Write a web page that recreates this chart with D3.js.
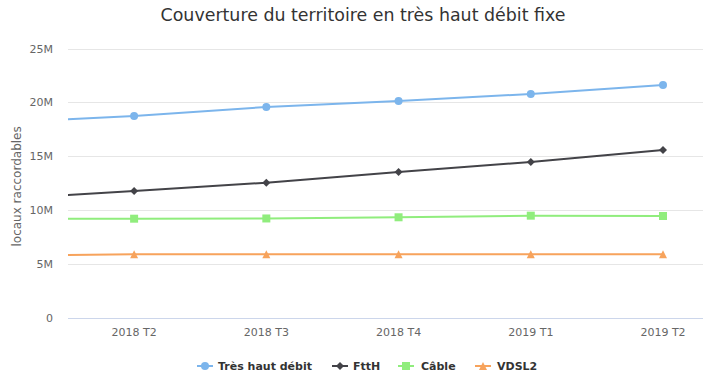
<!DOCTYPE html>
<html>
<head>
<meta charset="utf-8">
<script src="https://cdn.jsdelivr.net/npm/d3@7"></script>
<style>
  html, body { margin: 0; padding: 0; background: #fff; }
  svg { display: block; font-family: "DejaVu Sans", "Lucida Grande", Arial, sans-serif; }
</style>
</head>
<body>
<svg id="chart" width="703" height="381"></svg>
<script>
// ---- data ----
const categories = ["2018 T1", "2018 T2", "2018 T3", "2018 T4", "2019 T1", "2019 T2"];
const tresHautDebit = [18.13e6, 18.75e6, 19.58e6, 20.14e6, 20.79e6, 21.62e6];
const ftth          = [11.06e6, 11.80e6, 12.57e6, 13.56e6, 14.49e6, 15.60e6];
const cable         = [9.20e6, 9.23e6, 9.25e6, 9.36e6, 9.51e6, 9.48e6];
const vdsl2         = [5.81e6, 5.93e6, 5.93e6, 5.93e6, 5.94e6, 5.93e6];
const seriesNames   = ["Très haut débit", "FttH", "Câble", "VDSL2"];
const yTicks        = [0, 5e6, 10e6, 15e6, 20e6, 25e6];
const yTickLabels   = ["0", "5M", "10M", "15M", "20M", "25M"];
const titleText     = "Couverture du territoire en très haut débit fixe";
const yAxisTitle    = "locaux raccordables";

// ---- styles ----
const colors  = ["#7cb5ec", "#434348", "#90ed7d", "#f7a35c"];
const symbols = ["circle", "diamond", "square", "triangle"];
const seriesValues = [tresHautDebit, ftth, cable, vdsl2];

const plot = { left: 68, right: 703, top: 48.5, bottom: 318.3 };
const svg = d3.select("#chart");

// x: visible window starts half a step before 2018 T2
const step = 132.25;
const x = d3.scaleLinear()
  .domain([0.5, 5 + (plot.right - 663) / step])
  .range([plot.left, plot.right]);
const y = d3.scaleLinear().domain([0, 25e6]).range([plot.bottom, plot.top]);

// title
const title = svg.append("text")
  .attr("x", 363).attr("y", 21)
  .attr("text-anchor", "middle")
  .attr("fill", "#333333")
  .style("font-size", "18px")
  .text(titleText);
const tw = title.node().getComputedTextLength();
title.style("font-size", (18 * 405 / tw).toFixed(2) + "px");

// grid
svg.append("g").selectAll("line").data(yTicks.slice(1)).join("line")
  .attr("x1", plot.left).attr("x2", plot.right)
  .attr("y1", d => Math.round(y(d)) + 0.5).attr("y2", d => Math.round(y(d)) + 0.5)
  .attr("stroke", "#e6e6e6").attr("stroke-width", 1);
// x axis line
svg.append("line")
  .attr("x1", plot.left).attr("x2", plot.right)
  .attr("y1", Math.round(y(0)) + 0.5).attr("y2", Math.round(y(0)) + 0.5)
  .attr("stroke", "#ccd6eb").attr("stroke-width", 1);

// y tick labels
svg.append("g").selectAll("text").data(yTicks).join("text")
  .attr("x", 53).attr("y", d => y(d) + 4)
  .attr("text-anchor", "end")
  .attr("fill", "#666666")
  .style("font-size", "11px")
  .text((d, i) => yTickLabels[i]);

// y axis title
svg.append("text")
  .attr("transform", `translate(21,${(plot.top + plot.bottom) / 2 + 3}) rotate(-90)`)
  .attr("text-anchor", "middle")
  .attr("fill", "#666666")
  .style("font-size", "12px")
  .text(yAxisTitle);

// x tick labels (only visible categories)
const visIdx = d3.range(1, categories.length);
svg.append("g").selectAll("text").data(visIdx).join("text")
  .attr("x", d => x(d)).attr("y", 336)
  .attr("text-anchor", "middle")
  .attr("fill", "#666666")
  .style("font-size", "11px")
  .text(d => categories[d]);

// clip
svg.append("clipPath").attr("id", "clip")
  .append("rect").attr("x", plot.left).attr("y", plot.top - 10)
  .attr("width", plot.right - plot.left).attr("height", plot.bottom - plot.top + 20);

function symbolPath(type, cx, cy, r) {
  r = r || 4;
  switch (type) {
    case "circle":
      return `M${cx - r},${cy} a${r},${r} 0 1,0 ${2 * r},0 a${r},${r} 0 1,0 ${-2 * r},0Z`;
    case "diamond":
      return `M${cx},${cy - r} L${cx + r},${cy} L${cx},${cy + r} L${cx - r},${cy}Z`;
    case "square":
      return `M${cx - r},${cy - r} h${2 * r} v${2 * r} h${-2 * r}Z`;
    case "triangle":
      return `M${cx},${cy - r} L${cx + r},${cy + r} L${cx - r},${cy + r}Z`;
  }
}

const line = d3.line().x((d, i) => x(i)).y(d => y(d));
const gSeries = svg.append("g").attr("clip-path", "url(#clip)");
seriesValues.forEach((vals, s) => {
  gSeries.append("path")
    .attr("d", line(vals))
    .attr("fill", "none")
    .attr("stroke", colors[s])
    .attr("stroke-width", 2)
    .attr("stroke-linejoin", "round");
});
seriesValues.forEach((vals, s) => {
  svg.append("g").selectAll("path").data(visIdx).join("path")
    .attr("d", i => symbolPath(symbols[s], x(i), y(vals[i]), 4))
    .attr("fill", colors[s]);
});

// legend
const legendItems = [
  { sx: 197, tx: 218 },
  { sx: 332, tx: 353 },
  { sx: 398, tx: 421 },
  { sx: 475, tx: 497 }
];
const lg = svg.append("g");
seriesNames.forEach((name, s) => {
  const ly = 366;
  const it = lg.append("g");
  it.append("line")
    .attr("x1", legendItems[s].sx).attr("x2", legendItems[s].sx + 16)
    .attr("y1", ly).attr("y2", ly)
    .attr("stroke", colors[s]).attr("stroke-width", 2);
  it.append("path")
    .attr("d", symbolPath(symbols[s], legendItems[s].sx + 8, ly, 4))
    .attr("fill", colors[s]);
  it.append("text")
    .attr("x", legendItems[s].tx).attr("y", ly + 4)
    .attr("fill", "#333333")
    .style("font-size", "11px")
    .style("font-weight", "bold")
    .text(name);
});
</script>
</body>
</html>
